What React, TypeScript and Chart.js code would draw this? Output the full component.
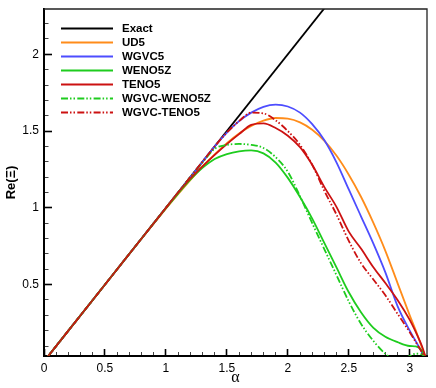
import React, { useEffect, useRef } from 'react';
import { Chart, registerables } from 'chart.js';

Chart.register(...registerables);

// ---------- data ----------
const ALPHA = [0, 0.2, 0.4, 0.6, 0.8, 1.0, 1.1, 1.2, 1.3, 1.4, 1.5, 1.6, 1.7, 1.8, 1.9, 2.0, 2.1, 2.2, 2.3, 2.4, 2.5, 2.6, 2.7, 2.8, 2.9, 3.0, 3.05, 3.1, 3.1416];
const EXACT_ALPHA = [0, 3.1416];
const EXACT_RE = [0, 3.1416];
const UD5 = [0, 0.2, 0.4, 0.6, 0.799, 0.994, 1.089, 1.181, 1.268, 1.348, 1.421, 1.484, 1.533, 1.568, 1.585, 1.581, 1.557, 1.509, 1.436, 1.339, 1.216, 1.072, 0.905, 0.72, 0.51, 0.3, 0.2, 0.09, 0];
const WGVC5 = [0, 0.2, 0.4, 0.6, 0.8, 1.0, 1.1, 1.2, 1.3, 1.4, 1.49, 1.565, 1.62, 1.658, 1.672, 1.66, 1.62, 1.545, 1.44, 1.295, 1.12, 0.945, 0.77, 0.58, 0.36, 0.2, 0.13, 0.06, 0];
const WENO5Z = [0, 0.2, 0.4, 0.6, 0.8, 0.998, 1.093, 1.183, 1.26, 1.318, 1.35, 1.368, 1.374, 1.355, 1.295, 1.195, 1.07, 0.93, 0.77, 0.61, 0.45, 0.32, 0.22, 0.16, 0.125, 0.1, 0.097, 0.07, 0];
const TENO5 = [0, 0.2, 0.4, 0.6, 0.8, 1.0, 1.1, 1.19, 1.27, 1.345, 1.415, 1.48, 1.54, 1.55, 1.52, 1.47, 1.395, 1.28, 1.135, 1.005, 0.845, 0.735, 0.615, 0.51, 0.4, 0.27, 0.19, 0.1, 0];
const WGVC_WENO5Z = [0, 0.2, 0.4, 0.6, 0.8, 1.0, 1.1, 1.2, 1.295, 1.385, 1.41, 1.416, 1.41, 1.39, 1.33, 1.235, 1.075, 0.9, 0.73, 0.56, 0.39, 0.245, 0.135, 0.05, 0.005, 0.035, 0.05, 0.045, 0];
const WGVC_TENO5 = [0, 0.2, 0.4, 0.6, 0.8, 1.0, 1.1, 1.2, 1.3, 1.4, 1.49, 1.565, 1.62, 1.615, 1.57, 1.5, 1.41, 1.28, 1.11, 0.955, 0.785, 0.64, 0.535, 0.43, 0.31, 0.19, 0.125, 0.06, 0];

const SERIES_LABELS = ['Exact', 'UD5', 'WGVC5', 'WENO5Z', 'TENO5', 'WGVC-WENO5Z', 'WGVC-TENO5'];

const X_MAJOR = [0, 0.5, 1, 1.5, 2, 2.5, 3];
const X_TICK_LABELS = ['0', '0.5', '1', '1.5', '2', '2.5', '3'];
const X_MINOR = [0.1, 0.2, 0.3, 0.4, 0.6, 0.7, 0.8, 0.9, 1.1, 1.2, 1.3, 1.4, 1.6, 1.7, 1.8, 1.9, 2.1, 2.2, 2.3, 2.4, 2.6, 2.7, 2.8, 2.9, 3.1];
const Y_MAJOR = [0.5, 1, 1.5, 2];
const Y_TICK_LABELS = ['0.5', '1', '1.5', '2'];
const Y_MINOR = [0.1, 0.2, 0.3, 0.4, 0.6, 0.7, 0.8, 0.9, 1.1, 1.2, 1.3, 1.4, 1.6, 1.7, 1.8, 1.9, 2.1, 2.2];

const X_MIN = 0;
const X_MAX = 3.1416;
const Y_MIN = 0.035;
const Y_MAX = 2.295;

// ---------- styling ----------
const SANS = "'Liberation Sans', Arial, Helvetica, sans-serif";
const DASH_DOT_DOT = [7, 2, 1.5, 2, 1.5, 2.3];
const COLORS = ['#000000', '#ff8c1a', '#4d4dff', '#1ecc1e', '#cc1111', '#1ecc1e', '#cc1111'];
const DASHES = [[], [], [], [], [], DASH_DOT_DOT, DASH_DOT_DOT];

function pts(xs: number[], ys: number[]) {
  return xs.map((x, i) => ({ x, y: ys[i] }));
}

function noPad(s: any) {
  s.paddingTop = 0;
  s.paddingBottom = 0;
  s.paddingLeft = 0;
  s.paddingRight = 0;
}

const inlineLegend = {
  id: 'inlineLegend',
  afterDraw(chart: any) {
    const { ctx, chartArea } = chart;
    const x0 = chartArea.left + 17;
    const x1 = chartArea.left + 69;
    const tx = chartArea.left + 78;
    const y0 = chartArea.top + 19.5;
    ctx.save();
    chart.data.datasets.forEach((ds: any, i: number) => {
      const y = y0 + i * 14;
      ctx.beginPath();
      ctx.setLineDash(ds.borderDash || []);
      ctx.strokeStyle = ds.borderColor;
      ctx.lineWidth = 2;
      ctx.moveTo(x0, y);
      ctx.lineTo(x1, y);
      ctx.stroke();
      ctx.setLineDash([]);
      ctx.fillStyle = '#000';
      ctx.font = `bold 11.5px ${SANS}`;
      ctx.textBaseline = 'middle';
      ctx.textAlign = 'left';
      ctx.fillText(ds.label, tx, y + 0.5);
    });
    ctx.restore();
  },
};

const frame = {
  id: 'frame',
  afterDraw(chart: any) {
    const { ctx, chartArea } = chart;
    ctx.save();
    ctx.strokeStyle = '#222';
    ctx.lineWidth = 1.3;
    ctx.beginPath();
    ctx.moveTo(chartArea.left, chartArea.top);
    ctx.lineTo(chartArea.right, chartArea.top);
    ctx.lineTo(chartArea.right, chartArea.bottom);
    ctx.stroke();
    ctx.restore();
  },
};

export default function App() {
  const ref = useRef<HTMLCanvasElement>(null);

  useEffect(() => {
    const seriesY = [EXACT_RE, UD5, WGVC5, WENO5Z, TENO5, WGVC_WENO5Z, WGVC_TENO5];
    const datasets = seriesY.map((ys, i) => ({
      label: SERIES_LABELS[i],
      data: i === 0 ? pts(EXACT_ALPHA, ys) : pts(ALPHA, ys),
      borderColor: COLORS[i],
      backgroundColor: COLORS[i],
      borderDash: DASHES[i],
      borderWidth: 1.8,
      pointRadius: 0,
      fill: false,
      cubicInterpolationMode: 'monotone' as const,
      order: 10 - i,
    }));

    const chart = new Chart(ref.current!, {
      type: 'line',
      data: { datasets },
      plugins: [inlineLegend, frame],
      options: {
        animation: false,
        responsive: false,
        devicePixelRatio: 1,
        layout: { padding: { top: 9, right: 9, left: 0, bottom: 0 } },
        plugins: { legend: { display: false }, tooltip: { enabled: false } },
        scales: {
          x: {
            type: 'linear',
            position: 'bottom',
            weight: 1,
            min: X_MIN,
            max: X_MAX,
            afterBuildTicks: (s: any) => { s.ticks = X_MAJOR.map((v) => ({ value: v })); },
            afterFit: (s: any) => { s.height = 32; noPad(s); },
            border: { display: true, color: '#000', width: 2 },
            grid: { drawOnChartArea: false, drawTicks: true, tickLength: -7, tickColor: '#000', tickWidth: 1.6 },
            ticks: {
              autoSkip: false,
              maxRotation: 0,
              padding: 12,
              color: '#000',
              font: { family: SANS, size: 12 },
              callback: (v: any) => { const k = X_MAJOR.indexOf(Number(v)); return k >= 0 ? X_TICK_LABELS[k] : ''; },
            },
            title: { display: true, text: 'α', color: '#000', font: { family: "'Liberation Serif', 'DejaVu Serif', serif", size: 16 }, padding: { top: 0, bottom: 1 } },
          },
          xMinor: {
            type: 'linear',
            axis: 'x',
            position: 'bottom',
            weight: 0,
            min: X_MIN,
            max: X_MAX,
            afterBuildTicks: (s: any) => { s.ticks = X_MINOR.map((v) => ({ value: v })); },
            afterFit: (s: any) => { s.height = 0; noPad(s); },
            border: { display: false },
            grid: { drawOnChartArea: false, drawTicks: true, tickLength: -4, tickColor: '#444', tickWidth: 1 },
            ticks: { display: false, autoSkip: false },
          },
          y: {
            type: 'linear',
            position: 'left',
            weight: 1,
            min: Y_MIN,
            max: Y_MAX,
            afterBuildTicks: (s: any) => { s.ticks = Y_MAJOR.map((v) => ({ value: v })); },
            afterFit: (s: any) => { s.width = 44; noPad(s); },
            border: { display: true, color: '#000', width: 2 },
            grid: { drawOnChartArea: false, drawTicks: true, tickLength: -8, tickColor: '#000', tickWidth: 1.6 },
            ticks: {
              autoSkip: false,
              padding: 13,
              color: '#000',
              font: { family: SANS, size: 12 },
              callback: (v: any) => { const k = Y_MAJOR.indexOf(Number(v)); return k >= 0 ? Y_TICK_LABELS[k] : ''; },
            },
            title: { display: true, text: 'Re(Ξ)', color: '#000', font: { family: SANS, size: 13, weight: 'bold' }, padding: { top: 4, bottom: 0 } },
          },
          yMinor: {
            type: 'linear',
            axis: 'y',
            position: 'left',
            weight: 0,
            min: Y_MIN,
            max: Y_MAX,
            afterBuildTicks: (s: any) => { s.ticks = Y_MINOR.map((v) => ({ value: v })); },
            afterFit: (s: any) => { s.width = 0; noPad(s); },
            border: { display: false },
            grid: { drawOnChartArea: false, drawTicks: true, tickLength: -4.5, tickColor: '#444', tickWidth: 1 },
            ticks: { display: false, autoSkip: false },
          },
        },
      } as any,
    });
    return () => chart.destroy();
  }, []);

  return (
    <div style={{ position: 'absolute', left: 0, top: 0, width: 436, height: 388, background: '#fff' }}>
      <canvas ref={ref} width={436} height={388} style={{ display: 'block', width: 436, height: 388 }} />
    </div>
  );
}
